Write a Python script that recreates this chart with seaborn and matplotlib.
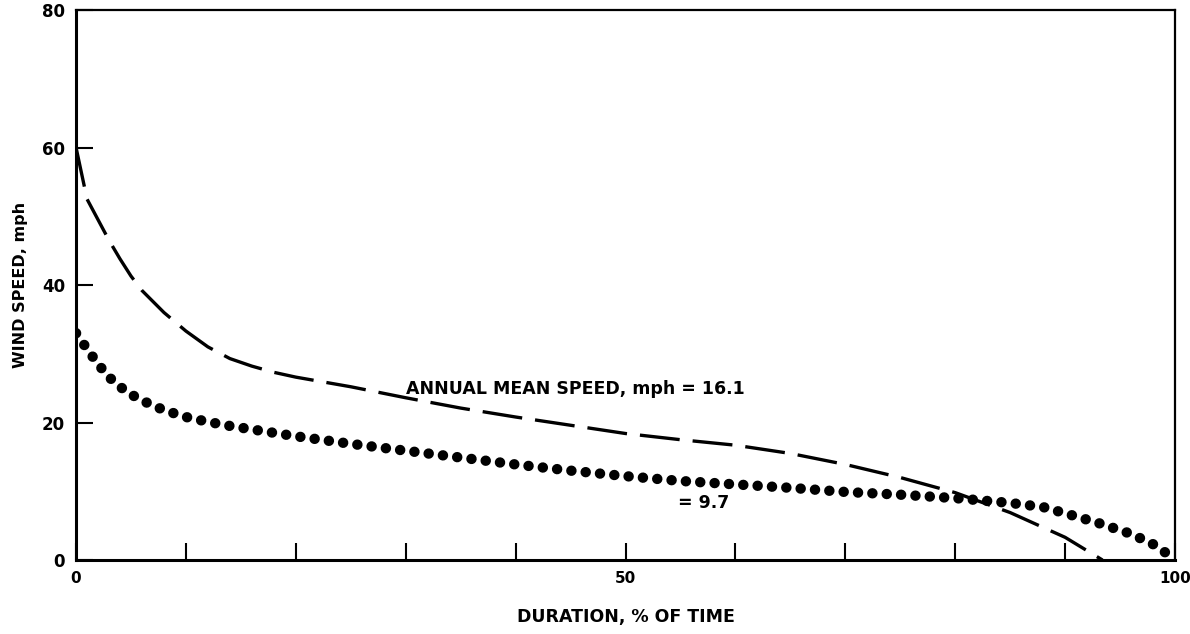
import matplotlib
matplotlib.use("Agg")
import matplotlib.pyplot as plt
import seaborn as sns
import pandas as pd

# Speed-duration curve (dashed) and the lower mean-speed curve (dotted)
upper_duration = [0, 1, 2, 3, 4, 5, 6, 8, 10, 12, 14, 16, 18, 20, 25, 30, 35, 40,
                  45, 50, 55, 60, 65, 70, 75, 80, 85, 90, 93.4]
upper_speed = [60, 52.5, 49.5, 46.5, 43.8, 41.3, 39.2, 36.0, 33.3, 31.0, 29.3, 28.2,
               27.3, 26.6, 25.2, 23.6, 22.1, 20.8, 19.6, 18.4, 17.5, 16.7, 15.5,
               13.9, 12.0, 9.8, 6.9, 3.3, 0.0]

lower_duration = [0, 1, 2, 3, 4, 5, 6, 8, 10, 12, 14, 16, 20, 25, 30, 35, 40, 45,
                  50, 55, 60, 65, 70, 75, 80, 85, 88, 90, 93, 96, 98, 99.3]
lower_speed = [33.0, 30.7, 28.5, 26.6, 25.2, 24.1, 23.2, 21.8, 20.8, 20.1, 19.5,
               19.0, 18.0, 16.9, 15.9, 14.9, 13.9, 13.0, 12.2, 11.5, 11.0, 10.5,
               9.9, 9.5, 9.0, 8.3, 7.7, 6.8, 5.4, 3.8, 2.3, 0.9]

x_ticks = [0, 10, 20, 30, 40, 50, 60, 70, 80, 90, 100]
x_tick_labels = ["0", "", "", "", "", "50", "", "", "", "", "100"]
y_ticks = [0, 20, 40, 60, 80]
y_tick_labels = ["0", "20", "40", "60", "80"]

upper_label = "ANNUAL MEAN SPEED, mph = 16.1"
lower_label = "= 9.7"

sns.set_theme(style="white")
plt.rcParams["font.family"] = ["DejaVu Sans"]

fig = plt.figure(figsize=(11.9, 6.34), dpi=100)
ax = fig.add_axes([0.0639, 0.1167, 0.9235, 0.8675])

upper = pd.DataFrame({"duration": upper_duration, "speed": upper_speed})
lower = pd.DataFrame({"duration": lower_duration, "speed": lower_speed})

sns.lineplot(data=upper, x="duration", y="speed", ax=ax, color="black",
             linewidth=2.4, estimator=None, sort=False)
dash_line = ax.lines[-1]
dash_line.set_dashes((12, 3.9))
dash_line.set_dash_capstyle("butt")

sns.lineplot(data=lower, x="duration", y="speed", ax=ax, color="black",
             linewidth=7.5, estimator=None, sort=False)
dot_line = ax.lines[-1]
dot_line.set_dashes((0.01, 1.37))
dot_line.set_dash_capstyle("round")

ax.set_xlim(0, 100)
ax.set_ylim(0, 80)

ax.set_xticks(x_ticks)
ax.set_xticklabels(x_tick_labels, fontsize=11, fontweight="bold")
ax.set_yticks(y_ticks)
ax.set_yticklabels(y_tick_labels, fontsize=12, fontweight="bold")
ax.tick_params(axis="both", direction="in", length=12.5, width=1.5,
               color="black", labelcolor="black", bottom=True, left=True)
ax.tick_params(axis="x", pad=8)
ax.tick_params(axis="y", pad=8)

for side in ["left", "bottom"]:
    ax.spines[side].set_linewidth(2.2)
    ax.spines[side].set_color("black")
for side in ["top", "right"]:
    ax.spines[side].set_linewidth(1.6)
    ax.spines[side].set_color("black")
    ax.spines[side].set_visible(True)

ax.set_xlabel("DURATION, % OF TIME", fontsize=12.5, fontweight="bold",
              labelpad=16, color="black")
ax.set_ylabel("WIND SPEED, mph", fontsize=11.5, fontweight="bold",
              labelpad=10, color="black")

ax.text(30.0, 24.9, upper_label, fontsize=12.5, fontweight="bold",
        ha="left", va="center", color="black")
ax.text(54.8, 8.3, lower_label, fontsize=12.5, fontweight="bold",
        ha="left", va="center", color="black")

fig.savefig("out.png", dpi=100, facecolor="white")
